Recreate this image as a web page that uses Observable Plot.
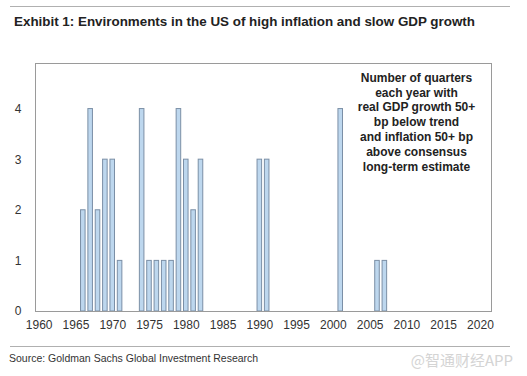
<!DOCTYPE html>
<html><head><meta charset="utf-8">
<script src="https://cdn.jsdelivr.net/npm/d3@7"></script>
<script src="https://cdn.jsdelivr.net/npm/@observablehq/plot@0.6"></script>
<style>
body{margin:0;background:#fff;font-family:"Liberation Sans",Arial,sans-serif;}
#wrap{position:relative;width:527px;height:376px;overflow:hidden;}
.rule{position:absolute;left:10px;width:500px;height:0;border-top:1.5px solid #b0b0b0;}
#title{position:absolute;left:14px;top:14px;font-weight:bold;font-size:13.4px;color:#222;white-space:nowrap;}
#chart{position:absolute;left:0;top:40px;}
#source{position:absolute;left:9px;top:352px;font-size:10.5px;color:#333;white-space:nowrap;}
#wm{position:absolute;right:14px;top:349px;font-size:15px;color:#d4d4d4;font-family:"Noto Sans CJK SC",sans-serif;white-space:nowrap;}
</style></head>
<body>
<div id="wrap">
  <div class="rule" style="top:6px"></div>
  <div id="title">Exhibit 1: Environments in the US of high inflation and slow GDP growth</div>
  <div id="chart"></div>
  <div class="rule" style="top:346px"></div>
  <div id="source">Source: Goldman Sachs Global Investment Research</div>
  <div id="wm">@智通财经APP</div>
</div>
<script>
const years = [1966,1967,1968,1969,1970,1971,1974,1975,1976,1977,1978,1979,1980,1981,1982,1990,1991,2001,2006,2007];
const quarters = [2,4,2,3,3,1,4,1,1,1,1,4,3,2,3,3,3,4,1,1];
const xTicks = [1960,1965,1970,1975,1980,1985,1990,1995,2000,2005,2010,2015,2020];
const yTicks = [0,1,2,3,4];
const noteLines = ["Number of quarters","each year with","real GDP growth 50+","bp below trend","and inflation 50+ bp","above consensus","long-term estimate"];

const data = years.map((y,i)=>({year:y, value:quarters[i]}));
const domain = d3.range(1960, 2022);

const chart = Plot.plot({
  width: 527,
  height: 300,
  marginTop: 23,
  marginBottom: 29,
  marginLeft: 35,
  marginRight: 36,
  style: {fontFamily: '"Liberation Sans", Arial, sans-serif', fontSize: "12px", color: "#333", background: "transparent"},
  x: {type: "band", domain, round: false, paddingInner: 0.38, paddingOuter: 0.19, ticks: xTicks, tickFormat: d => String(d), tickSize: 0, tickPadding: 9, label: null},
  y: {domain: [0, 4.9], ticks: yTicks, tickFormat: d => String(d), tickSize: 0, tickPadding: 14, label: null},
  marks: [
    Plot.barY(data, {x: "year", y: "value", fill: "#bdd7ee", stroke: "#7b8fa6", strokeWidth: 1}),
    Plot.frame({stroke: "#9a9a9a"}),
    Plot.text([noteLines.join("\n")], {frameAnchor: "top", dx: 153, dy: 8, lineHeight: 1.23, fontWeight: "bold", fontSize: 12, fill: "#222", textAnchor: "middle"})
  ]
});
document.getElementById("chart").appendChild(chart);
</script>
</body></html>
